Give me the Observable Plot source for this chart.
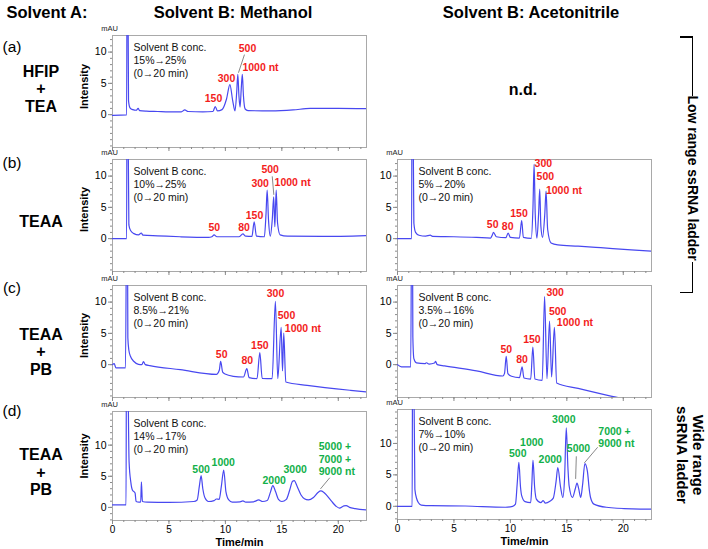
<!DOCTYPE html>
<html><head><meta charset="utf-8">
<script src="https://cdn.jsdelivr.net/npm/d3@7"></script>
<script src="https://cdn.jsdelivr.net/npm/@observablehq/plot@0.6"></script>
<style>
body{margin:0;background:#fff}
#fig{position:relative;width:708px;height:549px;font-family:"Liberation Sans",Arial,Helvetica,sans-serif;color:#000;overflow:hidden;background:#fff}
.lbl{position:absolute;white-space:nowrap;transform:translate(-50%,-50%);line-height:1}
.rot{transform:translate(-50%,-50%) rotate(90deg);text-align:center}
.ln{position:absolute;background:#000}
.panel{position:absolute}
</style></head><body><div id="fig"></div>
<script>
// ---------- text content ----------
const headers = ["Solvent A:", "Solvent B: Methanol", "Solvent B: Acetonitrile"];
const rowTags = ["(a)", "(b)", "(c)", "(d)"];
const solventA = [["HFIP", "+", "TEA"], ["TEAA"], ["TEAA", "+", "PB"], ["TEAA", "+", "PB"]];
const ladderLow = "Low range ssRNA ladder";
const ladderWide = ["Wide range", "ssRNA ladder"];
const notDetected = "n.d.";
const xTicks = [0, 5, 10, 15, 20];
const yTicks = [0, 5, 10];
const gradA_MeOH = "Solvent B conc.\n15%\u219225%\n(0\u219220 min)";
const gradB_MeOH = "Solvent B conc.\n10%\u219225%\n(0\u219220 min)";
const gradB_ACN  = "Solvent B conc.\n5%\u219220%\n(0\u219220 min)";
const gradC_MeOH = "Solvent B conc.\n8.5%\u219221%\n(0\u219220 min)";
const gradC_ACN  = "Solvent B conc.\n3.5%\u219216%\n(0\u219220 min)";
const gradD_MeOH = "Solvent B conc.\n14%\u219217%\n(0\u219220 min)";
const gradD_ACN  = "Solvent B conc.\n7%\u219210%\n(0\u219220 min)";

// ---------- chromatogram traces [time (min), intensity (mAU)] ----------
const traceA_MeOH = [[0,-0.1],[1.25,-0.05],[1.3,30],[1.34,30],[1.42,2.2],[1.55,1.1],[1.8,0.8],[2.1,0.7],[2.27,1.0],[2.4,0.65],[3,0.55],[4,0.5],[5,0.45],[6.1,0.45],[6.4,0.75],[6.7,0.5],[8,0.45],[8.9,0.5],[9.1,1.3],[9.3,0.6],[9.7,0.8],[10.1,2.5],[10.4,4.8],[10.65,2.2],[10.85,0.6],[11.0,3.5],[11.1,6.45],[11.2,3],[11.3,1.2],[11.4,4],[11.5,6.45],[11.6,3],[11.75,0.9],[12.0,0.65],[14,0.6],[16,0.75],[17.5,1.0],[20,1.0],[22.5,0.95]];
const traceB_MeOH = [[0,0],[1.25,0],[1.29,30],[1.33,30],[1.45,2.2],[1.6,1.3],[1.9,0.8],[2.3,0.6],[2.55,0.9],[2.7,0.55],[4,0.45],[6,0.3],[8.5,0.2],[8.8,0.3],[9.0,0.6],[9.25,0.3],[11.2,0.3],[11.55,0.75],[11.8,0.4],[12.35,0.35],[12.55,2.7],[12.75,0.4],[13.45,0.3],[13.6,4],[13.7,7.75],[13.82,3],[13.98,0.4],[14.15,3],[14.28,6.7],[14.38,1.9],[14.5,7.75],[14.62,2.5],[14.85,0.6],[15.5,0.4],[18.6,0.35],[22.5,0.5]];
const traceB_ACN = [[0,0],[1.25,0],[1.29,30],[1.33,30],[1.45,2.5],[1.6,1.0],[1.9,0.55],[2.5,0.4],[2.9,0.55],[3.1,0.35],[5,0.3],[7,0.2],[8.25,0.1],[8.4,0.6],[8.5,1.0],[8.75,0.3],[9.6,0.15],[9.8,0.9],[10.0,0.2],[10.8,0.1],[11.0,2.9],[11.15,0.2],[11.85,0.05],[12.0,5],[12.1,11.9],[12.2,4],[12.35,0.1],[12.5,4],[12.6,7.9],[12.7,2],[12.85,0.2],[13.05,4],[13.16,7.6],[13.3,1.5],[13.6,-0.7],[14.2,-1.0],[16,-1.2],[18,-1.45],[20.7,-1.8],[22.5,-2.0]];
const traceC_MeOH = [[0,0],[0.15,0.15],[0.3,-0.5],[1.15,-0.5],[1.27,30],[1.31,30],[1.36,4.3],[1.45,2.3],[1.6,1.3],[1.9,0.5],[2.3,0.05],[2.6,0.0],[2.74,0.5],[2.9,0.0],[3.3,-0.15],[6,-0.8],[9.2,-1.55],[9.46,-0.9],[9.58,0.53],[9.76,-1.2],[9.97,-1.5],[10.7,-1.86],[11.6,-1.97],[11.9,-0.64],[12.1,-2.08],[12.8,-2.24],[13.05,1.92],[13.26,-2.2],[14.14,-2.24],[14.43,10.1],[14.64,-2.24],[14.94,5.97],[15.06,-1.0],[15.17,5.06],[15.35,-2.77],[17.24,-3.3],[21.08,-4.1],[22.5,-4.35]];
const traceC_ACN = [[0,0],[0.35,-0.37],[1.17,-0.37],[1.27,30],[1.31,30],[1.36,4.4],[1.45,0.96],[1.68,0.27],[2.42,0.16],[2.57,0.3],[2.8,0.1],[3.28,0.27],[3.37,0.53],[3.52,0.0],[4.17,-0.2],[7,-1.0],[9.34,-1.81],[9.48,-1.4],[9.63,1.33],[9.78,-1.44],[10.1,-1.86],[10.8,-2.08],[11.04,-0.37],[11.2,-2.13],[11.8,-2.3],[11.99,2.82],[12.17,-2.3],[12.82,-2.5],[13.03,10.9],[13.24,-2.24],[13.47,6.98],[13.65,-1.97],[13.9,5.97],[14.1,-2.93],[16,-3.8],[19.0,-5.06],[22.5,-6.3]];
const traceD_MeOH = [[0,0.4],[1.2,0.4],[1.24,30],[1.3,30],[1.47,7.3],[1.62,4.1],[1.76,2.8],[2.0,2.3],[2.09,0.95],[2.35,0.85],[2.5,0.9],[2.56,4.1],[2.65,0.95],[3.09,0.85],[5,0.8],[7.2,0.95],[7.5,1.2],[7.7,3.5],[7.85,5.1],[8.0,3.0],[8.2,1.5],[8.5,0.95],[9.0,1.1],[9.2,1.35],[9.45,1.3],[9.65,3.5],[9.85,6.0],[10.05,2.5],[10.3,1.2],[10.6,0.85],[11.3,0.9],[11.55,1.05],[11.8,0.85],[12.5,0.9],[12.95,1.2],[13.3,0.95],[13.7,1.1],[14.0,2.5],[14.2,3.5],[14.45,2.5],[14.7,1.3],[15.0,0.95],[15.4,1.3],[15.7,2.8],[15.95,4.2],[16.1,4.3],[16.35,3.4],[16.7,2.0],[17.0,1.4],[17.35,1.2],[17.8,1.6],[18.2,2.4],[18.45,2.65],[18.7,2.45],[19.0,1.9],[19.4,1.0],[19.8,0.2],[20.1,-0.1],[20.5,0.25],[20.7,0.3],[21.0,0.0],[21.5,-0.2],[22.5,-0.4]];
const traceD_ACN = [[0,0],[1.3,0],[1.34,30],[1.4,30],[1.54,2.7],[1.7,1.2],[1.84,0.6],[2.1,0.2],[3,0.1],[6,0.05],[9.55,-0.15],[10.2,0],[10.45,0.35],[10.6,3.5],[10.75,7.0],[10.9,3.0],[11.0,1.7],[11.3,0.75],[11.8,0.6],[11.9,3.5],[12.0,7.35],[12.15,3.0],[12.3,1.15],[12.7,0.6],[12.9,0.9],[13.1,0.5],[13.5,0.8],[13.8,1.3],[14.05,4.0],[14.2,6.15],[14.45,3.0],[14.65,1.4],[14.8,4.5],[14.95,12.5],[15.1,6.0],[15.2,3.3],[15.5,1.4],[15.75,2.8],[15.9,3.7],[16.05,2.8],[16.23,1.4],[16.4,3.5],[16.6,6.8],[16.82,5.6],[17.0,2.5],[17.1,1.4],[17.4,0.35],[18.5,-0.15],[20.8,-0.4],[22.6,-0.45]];

// ---------- peak annotations (label, time, intensity) ----------
const peaksA_MeOH = [{l:"150",t:8.95,v:2.56},{l:"300",t:10.1,v:5.75},{l:"500",t:11.96,v:10.55},{l:"1000 nt",t:13.11,v:7.51}];
const peaksB_MeOH = [{l:"50",t:9.02,v:1.7},{l:"80",t:11.65,v:1.7},{l:"150",t:12.58,v:3.68},{l:"300",t:13.08,v:8.8},{l:"500",t:13.97,v:11.0},{l:"1000 nt",t:15.96,v:8.95}];
const peaksB_ACN = [{l:"50",t:8.43,v:2.24},{l:"80",t:9.76,v:1.92},{l:"150",t:10.76,v:4.0},{l:"300",t:12.92,v:12.0},{l:"500",t:13.1,v:9.95},{l:"1000 nt",t:14.75,v:7.75}];
const peaksC_MeOH = [{l:"50",t:9.67,v:1.65},{l:"80",t:11.94,v:0.58},{l:"150",t:13.05,v:3.08},{l:"300",t:14.44,v:11.35},{l:"500",t:15.41,v:7.77},{l:"1000 nt",t:16.87,v:5.75}];
const peaksC_ACN = [{l:"50",t:9.64,v:2.45},{l:"80",t:11.03,v:0.8},{l:"150",t:11.91,v:4.0},{l:"300",t:13.97,v:11.45},{l:"500",t:14.19,v:8.47},{l:"1000 nt",t:15.72,v:6.76}];
const peaksD_MeOH = [{l:"500",t:7.85,v:6.0},{l:"1000",t:9.81,v:7.16},{l:"2000",t:14.32,v:4.3},{l:"3000",t:16.18,v:6.0}];
const peaksD_ACN = [{l:"500",t:10.65,v:8.34},{l:"1000",t:11.89,v:10.2},{l:"2000",t:13.53,v:7.43},{l:"3000",t:14.73,v:13.78},{l:"5000",t:16.03,v:9.2}];
const multiD_MeOH = [{l:"5000 +\n7000 +\n9000 nt",t:18.27,v:10.58}];
const multiD_ACN = [{l:"7000 +\n9000 nt",t:17.79,v:12.76}];
const leadersA_MeOH = [{t1:11.69,v1:9.6,t2:11.16,v2:6.7}];
const leadersB_MeOH = [{t1:14.15,v1:9.96,t2:14.29,v2:7.0}];
const leadersD_MeOH = [{t1:18.42,v1:2.97,t2:19.25,v2:4.77}];
const leadersD_ACN = [{t1:15.78,v1:4.36,t2:15.84,v2:7.95},{t1:16.55,v1:6.9,t2:17.73,v2:9.39}];

// ---------- layout & style ----------
const FONT = '"Liberation Sans", Arial, Helvetica, sans-serif';
const BLUE = "#4848f0", RED = "#f31c1c", GREEN = "#12b04a", GRAY = "#a9a9a9";
const FW = 254, ML = 40, MR = 2, MT = 14;
const fig = document.getElementById("fig");

function addLabel(text, x, y, css, cls) {
  const d = document.createElement("div");
  d.className = cls || "lbl";
  d.textContent = text;
  d.style.left = x + "px"; d.style.top = y + "px";
  Object.assign(d.style, css || {});
  fig.appendChild(d);
  return d;
}
function addLine(x, y, w, h) {
  const d = document.createElement("div");
  d.className = "ln";
  Object.assign(d.style, {left: x + "px", top: y + "px", width: w + "px", height: h + "px"});
  fig.appendChild(d);
}

function panel(o) {
  const MB = o.bottom ? 28 : 8;
  const marks = [
    Plot.frame({stroke: GRAY}),
    Plot.axisY({ticks: o.minorY, tickSize: 2, text: null, stroke: "#8a8a8a", label: null}),
    Plot.axisY({ticks: yTicks, tickSize: 4, tickPadding: 2, fontSize: 10.5, stroke: "#8a8a8a", label: null}),
    Plot.axisX({ticks: d3.range(0, 23), tickSize: 2, text: null, stroke: "#8a8a8a", label: null}),
    o.bottom
      ? Plot.axisX({ticks: xTicks, tickSize: 4, tickPadding: 1, fontSize: 10, stroke: "#8a8a8a", label: null})
      : Plot.axisX({ticks: xTicks, tickSize: 4, text: null, stroke: "#8a8a8a", label: null}),
    Plot.line(o.trace, {x: d => d[0], y: d => d[1], stroke: BLUE, strokeWidth: 1.2, curve: "monotone-x", clip: true}),
    Plot.text([o.grad], {text: d => d, frameAnchor: "top-left", dx: 21, dy: 7, textAnchor: "start", lineAnchor: "top", fontSize: 10.5, lineHeight: 1.2, fill: "#111"}),
    Plot.text(["mAU"], {text: d => d, frameAnchor: "top-left", dx: -3, dy: -7, textAnchor: "middle", lineAnchor: "middle", fontSize: 7.5, fill: "#222"}),
    Plot.text(o.peaks, {x: "t", y: "v", text: "l", fill: o.color, fontWeight: "bold", fontSize: 10.5})
  ];
  if (o.multi) marks.push(Plot.text(o.multi, {x: "t", y: "v", text: "l", fill: o.color, fontWeight: "bold", fontSize: 10.5, textAnchor: "start", lineAnchor: "top", lineHeight: 1.19}));
  if (o.leaders) marks.push(Plot.link(o.leaders, {x1: "t1", y1: "v1", x2: "t2", y2: "v2", stroke: "#555", strokeWidth: 0.7}));
  if (o.intensity) marks.push(Plot.text(["Intensity"], {text: d => d, frameAnchor: "left", textAnchor: "middle", lineAnchor: "middle", rotate: -90, dx: -28, dy: o.idy, fontWeight: "bold", fontSize: 11}));
  if (o.bottom) marks.push(Plot.text(["Time/min"], {text: d => d, frameAnchor: "bottom", textAnchor: "middle", lineAnchor: "middle", dy: 21.5, fontWeight: "bold", fontSize: 11}));
  const svg = Plot.plot({
    width: ML + FW + MR, height: MT + o.h + MB,
    marginLeft: ML, marginRight: MR, marginTop: MT, marginBottom: MB,
    x: {domain: [0, 22.5]}, y: {domain: o.domain},
    style: {fontFamily: FONT, fontSize: "10.5px", background: "transparent", overflow: "visible", color: "#000"},
    marks
  });
  svg.classList.add("panel");
  svg.style.left = (o.axisX - ML) + "px";
  svg.style.top = (o.top - MT) + "px";
  fig.appendChild(svg);
}

const domLow = [-5.25, 12.65], domWide = [-2.1, 15.4];
const minorLow = d3.range(-5, 13), minorWide = d3.range(-2, 16);
const LX = 112, RX = 396.5;

panel({axisX: LX, top: 35, h: 112, domain: domLow, minorY: minorLow, trace: traceA_MeOH, peaks: peaksA_MeOH, leaders: leadersA_MeOH, grad: gradA_MeOH, color: RED, intensity: true, idy: -5});
panel({axisX: LX, top: 159, h: 112, domain: domLow, minorY: minorLow, trace: traceB_MeOH, peaks: peaksB_MeOH, leaders: leadersB_MeOH, grad: gradB_MeOH, color: RED, intensity: true, idy: -6});
panel({axisX: RX, top: 159, h: 112, domain: domLow, minorY: minorLow, trace: traceB_ACN, peaks: peaksB_ACN, grad: gradB_ACN, color: RED});
panel({axisX: LX, top: 285, h: 112, domain: domLow, minorY: minorLow, trace: traceC_MeOH, peaks: peaksC_MeOH, grad: gradC_MeOH, color: RED, intensity: true, idy: -6});
panel({axisX: RX, top: 285, h: 112, domain: domLow, minorY: minorLow, trace: traceC_ACN, peaks: peaksC_ACN, grad: gradC_ACN, color: RED});
panel({axisX: LX, top: 411, h: 109, domain: domWide, minorY: minorWide, trace: traceD_MeOH, peaks: peaksD_MeOH, multi: multiD_MeOH, leaders: leadersD_MeOH, grad: gradD_MeOH, color: GREEN, intensity: true, idy: -10, bottom: true});
panel({axisX: RX, top: 409, h: 110, domain: domWide, minorY: minorWide, trace: traceD_ACN, peaks: peaksD_ACN, multi: multiD_ACN, leaders: leadersD_ACN, grad: gradD_ACN, color: GREEN, bottom: true});

// ---------- headers and side labels ----------
const H = {fontWeight: "bold", fontSize: "16.5px"};
addLabel(headers[0], 47, 12, H);
addLabel(headers[1], 233, 12, H);
addLabel(headers[2], 531, 12, H);
const tagY = [47, 163, 288, 411];
rowTags.forEach((t, i) => addLabel(t, 12, tagY[i], {fontSize: "15.5px"}));
const rowY = [[72, 89, 107], [222], [335, 352, 370], [455, 473, 490]];
solventA.forEach((lines, i) => lines.forEach((s, j) => addLabel(s, 41, rowY[i][j], {fontWeight: "bold", fontSize: "16px"})));
addLabel(notDetected, 523, 90, {fontWeight: "bold", fontSize: "16px"});

// bracket for low range ladder
addLine(680, 36, 13, 1.5);
addLine(691.5, 36, 1.5, 60);
addLine(691.5, 262, 1.5, 31);
addLine(680, 291.5, 13, 1.5);
addLabel(ladderLow, 693, 178, {fontWeight: "bold", fontSize: "14px"}, "lbl rot");
const w = addLabel("", 690, 455, {fontWeight: "bold", fontSize: "15px", lineHeight: "1.05"}, "lbl rot");
w.innerHTML = ladderWide.join("<br>");
</script></body></html>
